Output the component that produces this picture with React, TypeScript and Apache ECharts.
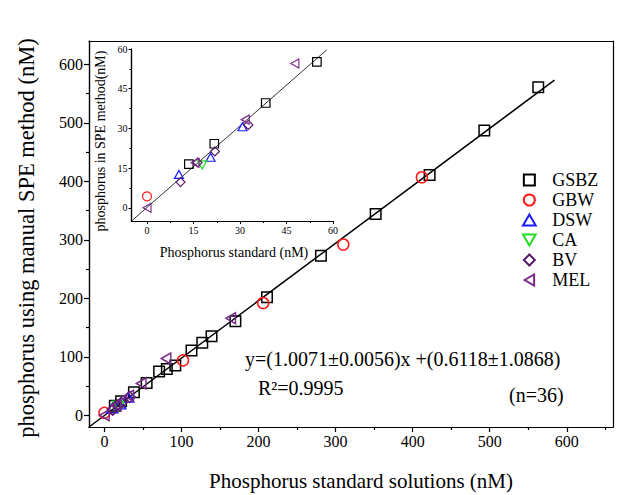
import React, { useEffect, useRef } from 'react';
import * as echarts from 'echarts';

// ---- data (standard, measured) ----
const gsbz: number[][] = [
  [13.5, 16.5], [21.7, 24.2], [38.3, 39.6], [54.8, 55.1], [71, 75], [81, 79], [92, 85],
  [113, 111], [127, 124], [139, 135], [170, 161], [211, 202], [281, 273], [352, 344],
  [422, 411], [493, 487], [563, 561],
];
const gbw: number[][] = [[0, 4.3], [102, 94], [206, 192], [310, 292], [412, 407]];
const dsw: number[][] = [[10.3, 12.6], [20.5, 19.1], [30.8, 30.6]];
const ca: number[][] = [[17.8, 16.2]];
const bv: number[][] = [[10.8, 9.7], [16.3, 17.1], [21.9, 21.3], [32.7, 31.3]];
const mel: number[][] = [[0, 0], [15.5, 17], [31.7, 33.3], [47.7, 54.5], [80, 97], [164, 166]];

const fitLine: number[][] = [[-20, -20], [584, 573]];
const insetFitLine: number[][] = [[-5, -5], [58, 59.7]];

const mainXTicks = [0, 100, 200, 300, 400, 500, 600];
const mainXMinor = [50, 150, 250, 350, 450, 550, 650];
const mainYTicks = [0, 100, 200, 300, 400, 500, 600];
const mainYMinor = [50, 150, 250, 350, 450, 550];
const insetTicks = [0, 15, 30, 45, 60];
const insetMinor = [7.5, 22.5, 37.5, 52.5];

const seriesNames = ['GSBZ', 'GBW', 'DSW', 'CA', 'BV', 'MEL'];
const seriesData = [gsbz, gbw, dsw, ca, bv, mel];
const seriesColors = ['#000000', '#ff1a1a', '#1a1aff', '#22dd22', '#5a1a6a', '#7a2a8a'];

const SERIF = '"Liberation Serif", "Times New Roman", serif';

const symbols = [
  'path://M0,0 L10,0 L10,10 L0,10 Z',
  'circle',
  'path://M5,0 L10,8.66 L0,8.66 Z',
  'path://M0,0 L10,0 L5,8.66 Z',
  'path://M5,0 L10,5 L5,10 L0,5 Z',
  'path://M0,5 L8.66,0 L8.66,10 Z',
];
const mainSizes: any[] = [10.5, 11, [11, 9.5], [11, 9.5], 11, [9.5, 11]];
const insetSizes: any[] = [8.5, 9, [9, 8], [9, 8], 9, [8, 9]];

function App() {
  const ref = useRef<HTMLDivElement>(null);
  useEffect(() => {
    if (!ref.current) return;
    const chart = echarts.init(ref.current, undefined, { renderer: 'svg' });

    const axisLineStyle = { show: true, onZero: false, lineStyle: { color: '#000', width: 1.2 } };
    const mkX = (grid: number, min: number, max: number, extra: any) => ({
      type: 'value', gridIndex: grid, min, max, splitLine: { show: false },
      axisLine: axisLineStyle, ...extra,
    });

    const xAxis = [
      mkX(0, -20, 660, {
        position: 'bottom',
        axisTick: { show: true, inside: false, length: 5, customValues: mainXTicks, lineStyle: { width: 1.2 } },
        axisLabel: { show: true, customValues: mainXTicks, fontFamily: SERIF, fontSize: 16, color: '#000', margin: 6 },
      }),
      mkX(0, -20, 660, {
        position: 'bottom',
        axisTick: { show: true, inside: false, length: 3, customValues: mainXMinor, lineStyle: { width: 1.2 } },
        axisLabel: { show: false },
      }),
      mkX(0, -20, 660, { position: 'top', axisTick: { show: false }, axisLabel: { show: false } }),
      mkX(1, -5, 60, {
        position: 'bottom',
        axisTick: { show: true, inside: false, length: 3, customValues: insetTicks },
        axisLabel: { show: true, customValues: insetTicks, fontFamily: SERIF, fontSize: 10, color: '#000', margin: 4 },
      }),
      mkX(1, -5, 60, {
        position: 'bottom',
        axisTick: { show: true, inside: false, length: 2, customValues: insetMinor },
        axisLabel: { show: false },
      }),
    ];
    const yAxis = [
      mkX(0, -20, 640, {
        position: 'left',
        axisTick: { show: true, inside: false, length: 5, customValues: mainYTicks, lineStyle: { width: 1.2 } },
        axisLabel: { show: true, customValues: mainYTicks, fontFamily: SERIF, fontSize: 16, color: '#000', margin: 6 },
      }),
      mkX(0, -20, 640, {
        position: 'left',
        axisTick: { show: true, inside: false, length: 3, customValues: mainYMinor, lineStyle: { width: 1.2 } },
        axisLabel: { show: false },
      }),
      mkX(0, -20, 640, { position: 'right', axisTick: { show: false }, axisLabel: { show: false } }),
      mkX(1, -5, 60, {
        position: 'left',
        axisTick: { show: true, inside: false, length: 3, customValues: insetTicks },
        axisLabel: { show: true, customValues: insetTicks, fontFamily: SERIF, fontSize: 10, color: '#000', margin: 4 },
      }),
      mkX(1, -5, 60, {
        position: 'left',
        axisTick: { show: true, inside: false, length: 2, customValues: insetMinor },
        axisLabel: { show: false },
      }),
    ];

    const series: any[] = [];
    seriesNames.forEach((name, i) => {
      series.push({
        name, type: 'scatter', xAxisIndex: 0, yAxisIndex: 0,
        data: seriesData[i], symbol: symbols[i], symbolSize: mainSizes[i],
        itemStyle: { color: 'transparent', borderColor: seriesColors[i], borderWidth: 1.5, opacity: 1 },
        silent: true, z: 3,
      });
    });
    seriesNames.forEach((name, i) => {
      series.push({
        name, type: 'scatter', xAxisIndex: 3, yAxisIndex: 3,
        data: seriesData[i].filter((p) => p[0] <= 60 && p[1] <= 60),
        symbol: symbols[i], symbolSize: insetSizes[i],
        itemStyle: { color: 'transparent', borderColor: seriesColors[i], borderWidth: 1.2, opacity: 1 },
        silent: true, z: 3,
      });
    });
    series.push({
      type: 'line', xAxisIndex: 0, yAxisIndex: 0, data: fitLine, showSymbol: false,
      lineStyle: { color: '#000', width: 1.5 }, silent: true, z: 2,
    });
    series.push({
      type: 'line', xAxisIndex: 3, yAxisIndex: 3, data: insetFitLine, showSymbol: false,
      lineStyle: { color: '#333', width: 1 }, silent: true, z: 2,
    });

    chart.setOption({
      animation: false,
      backgroundColor: '#fff',
      grid: [
        { left: 89, top: 41, width: 524, height: 386 },
        { left: 131.5, top: 49, width: 201.5, height: 172 },
      ],
      xAxis, yAxis, series,
      legend: {
        orient: 'vertical', left: 517, top: 166, itemWidth: 36, itemHeight: 11, itemGap: 2,
        selectedMode: false, data: seriesNames,
        textStyle: { fontFamily: SERIF, fontSize: 18, color: '#000' },
      },
      graphic: [
        { type: 'text', x: 361, y: 481, style: { text: 'Phosphorus standard solutions (nM)', font: '21px ' + SERIF, fill: '#000', align: 'center', verticalAlign: 'middle' } },
        { type: 'text', x: 26, y: 238, rotation: Math.PI / 2, style: { text: 'phosphorus using manual SPE method (nM)', font: '22.5px ' + SERIF, fill: '#000', align: 'center', verticalAlign: 'middle' } },
        { type: 'text', x: 234, y: 252, style: { text: 'Phosphorus standard (nM)', font: '14px ' + SERIF, fill: '#000', align: 'center', verticalAlign: 'middle' } },
        { type: 'text', x: 100, y: 141, rotation: Math.PI / 2, style: { text: 'phosphorus in SPE method(nM)', font: '14px ' + SERIF, fill: '#000', align: 'center', verticalAlign: 'middle' } },
        { type: 'text', x: 245, y: 359, style: { text: 'y=(1.0071±0.0056)x +(0.6118±1.0868)', font: '20px ' + SERIF, fill: '#000', align: 'left', verticalAlign: 'middle' } },
        { type: 'text', x: 258, y: 388, style: { text: 'R²=0.9995', font: '20px ' + SERIF, fill: '#000', align: 'left', verticalAlign: 'middle' } },
        { type: 'text', x: 509, y: 395, style: { text: '(n=36)', font: '20px ' + SERIF, fill: '#000', align: 'left', verticalAlign: 'middle' } },
      ],
    });
    return () => chart.dispose();
  }, []);
  return <div ref={ref} style={{ position: 'fixed', left: 0, top: 0, width: 617, height: 495 }} />;
}

export default App;
